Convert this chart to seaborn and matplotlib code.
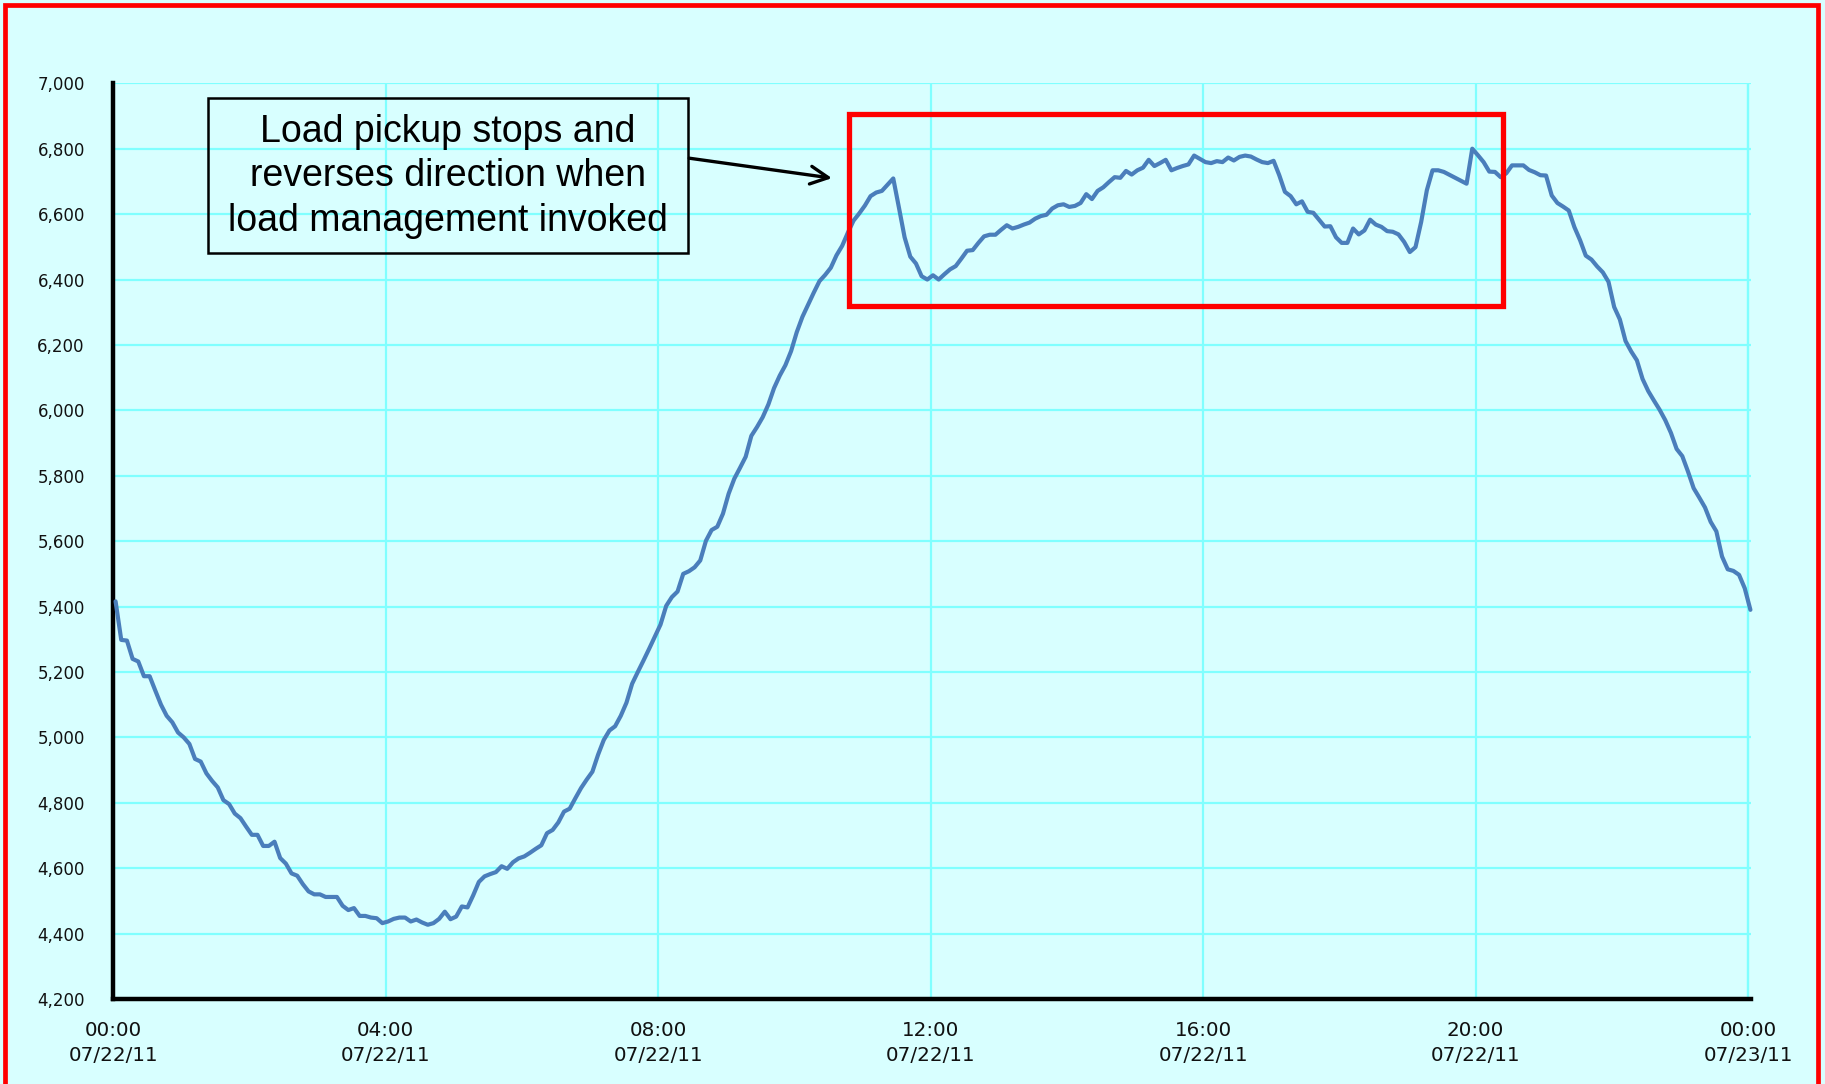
import numpy as np
import pandas as pd
import matplotlib
matplotlib.use("Agg")
import matplotlib.pyplot as plt
import matplotlib.dates as mdates
from matplotlib.patches import Rectangle
from matplotlib.ticker import FuncFormatter
import seaborn as sns

# ---------------- data (5-minute system load, MW) ----------------
load_00_04 = [5416, 5298, 5296, 5240, 5232, 5187, 5187, 5143, 5100, 5066,
              5046, 5015, 5000, 4980, 4934, 4926, 4890, 4867, 4847, 4808,
              4796, 4767, 4753, 4727, 4702, 4702, 4668, 4668, 4681, 4631,
              4614, 4584, 4577, 4551, 4529, 4520, 4520, 4512, 4512, 4512,
              4485, 4472, 4478, 4454, 4454, 4449, 4447, 4432, 4437]
load_04_08 = [4445, 4449, 4449, 4437, 4443, 4434, 4427, 4432, 4445, 4467,
              4444, 4452, 4483, 4480, 4517, 4558, 4575, 4582, 4588, 4606,
              4598, 4618, 4630, 4636, 4647, 4659, 4670, 4707, 4717, 4740,
              4773, 4782, 4814, 4845, 4871, 4895, 4947, 4992, 5021, 5034,
              5066, 5106, 5164, 5200, 5235, 5271, 5308, 5345]
load_08_12 = [5402, 5429, 5446, 5500, 5508, 5520, 5541, 5601, 5634, 5644,
              5684, 5745, 5791, 5824, 5858, 5922, 5949, 5979, 6018, 6068,
              6106, 6138, 6181, 6239, 6286, 6323, 6360, 6395, 6414, 6436,
              6474, 6503, 6543, 6580, 6602, 6626, 6655, 6666, 6671, 6690,
              6709, 6620, 6529, 6470, 6449, 6410, 6400, 6413]
load_12_16 = [6400, 6416, 6431, 6441, 6464, 6488, 6490, 6512, 6532, 6537,
              6537, 6552, 6566, 6556, 6561, 6568, 6574, 6586, 6594, 6598,
              6617, 6627, 6630, 6622, 6625, 6634, 6661, 6646, 6671, 6682,
              6698, 6713, 6711, 6732, 6721, 6734, 6742, 6766, 6747, 6756,
              6766, 6734, 6741, 6747, 6752, 6779, 6769, 6759]
load_16_20 = [6756, 6762, 6759, 6773, 6764, 6775, 6779, 6776, 6767, 6759,
              6756, 6763, 6719, 6668, 6655, 6630, 6639, 6607, 6604, 6583,
              6562, 6563, 6529, 6512, 6512, 6556, 6538, 6550, 6583, 6568,
              6561, 6548, 6546, 6538, 6515, 6484, 6499, 6576, 6673, 6734,
              6734, 6729, 6720, 6711, 6702, 6693, 6800, 6780]
load_20_24 = [6759, 6730, 6729, 6713, 6725, 6749, 6749, 6749, 6735, 6728,
              6719, 6718, 6657, 6634, 6623, 6611, 6560, 6520, 6473, 6461,
              6440, 6422, 6393, 6316, 6278, 6212, 6180, 6153, 6096, 6059,
              6030, 6002, 5970, 5931, 5882, 5860, 5813, 5762, 5733, 5703,
              5659, 5630, 5553, 5514, 5509, 5497, 5456, 5390]

load = load_00_04 + load_04_08 + load_08_12 + load_12_16 + load_16_20 + load_20_24
times = pd.date_range("2011-07-22 00:02", periods=len(load), freq="5min")
df = pd.DataFrame({"time": times, "load": load})

y_ticks = list(range(4200, 7001, 200))
annotation_text = "Load pickup stops and\nreverses direction when\nload management invoked"

# ---------------- style ----------------
BG = "#D8FFFF"
GRID = "#80FFFF"
LINE = "#4A7EBB"

sns.set_style("white")
plt.rcParams["font.family"] = ["DejaVu Sans"]

fig = plt.figure(figsize=(18.25, 10.84), dpi=100, facecolor=BG)
ax = fig.add_axes([113.3 / 1825, 1 - 999 / 1084, (1751 - 113.3) / 1825, (999 - 83.3) / 1084])
ax.set_facecolor(BG)

sns.lineplot(data=df, x="time", y="load", color=LINE, linewidth=3.0, ax=ax,
             zorder=3, clip_on=False)

base = pd.Timestamp("2011-07-22 00:00")
def T(h):
    return mdates.date2num(base + pd.Timedelta(hours=h))

ax.set_xlim(T(0), T(24.042))
ax.set_ylim(4200, 7000)

ax.xaxis.set_major_locator(mdates.HourLocator(byhour=range(0, 24, 4)))
ax.xaxis.set_major_formatter(mdates.DateFormatter("%H:%M\n%m/%d/%y"))
ax.set_yticks(y_ticks)
ax.yaxis.set_major_formatter(FuncFormatter(lambda v, p: f"{int(v):,}"))

ax.grid(True, color=GRID, linewidth=1.6, zorder=0)
ax.set_axisbelow(True)
ax.axvline(T(24), color=GRID, linewidth=1.6, zorder=0)

for s in ["top", "right"]:
    ax.spines[s].set_visible(False)
for s in ["left", "bottom"]:
    ax.spines[s].set_color("black")
    ax.spines[s].set_linewidth(3.2)

ax.tick_params(axis="y", direction="out", length=4.5, width=2.6, color="black",
               labelsize=12, pad=16, labelcolor="#111111")
ax.tick_params(axis="x", direction="out", length=4, width=2.6, color="black",
               labelsize=14.3, pad=12, labelcolor="#111111")
for lab in ax.get_xticklabels():
    lab.set_linespacing(1.38)

ax.set_xlabel("")
ax.set_ylabel("")

# annotation box
ax.add_patch(Rectangle((T(1.39), 6481), T(8.44) - T(1.39), 6955 - 6481,
                       fill=False, edgecolor="black", linewidth=1.8, zorder=4))
ax.text(T(4.915), 6716, annotation_text, ha="center", va="center",
        fontsize=27, family=["Liberation Sans", "DejaVu Sans"],
        linespacing=1.3, color="black", zorder=5)
ax.annotate("", xy=(T(10.55), 6710), xytext=(T(8.455), 6771),
            arrowprops=dict(arrowstyle="->", lw=2.4, color="black",
                            mutation_scale=32, shrinkA=0, shrinkB=0), zorder=5)

# highlighted region
ax.add_patch(Rectangle((T(10.80), 6320), T(20.40) - T(10.80), 6906 - 6320,
                       fill=False, edgecolor="#FF0000", linewidth=3.8, zorder=6))

# red frame around figure (bottom edge is off-canvas)
fig.add_artist(Rectangle((5 / 1825, -0.1), (1818 - 5) / 1825, 1.1 - 5 / 1084,
                         transform=fig.transFigure, fill=False,
                         edgecolor="#FF0000", linewidth=3.4))

fig.savefig("out.png", dpi=100, facecolor=BG)
